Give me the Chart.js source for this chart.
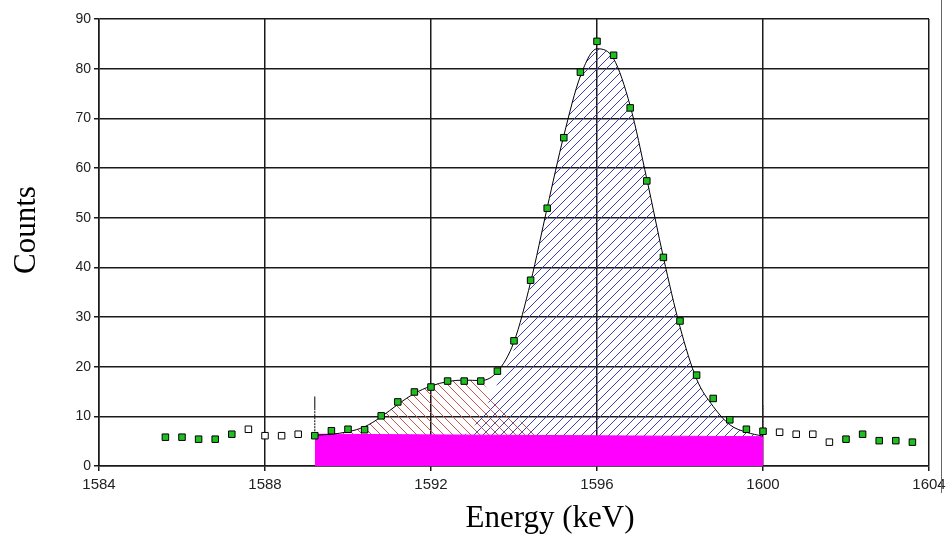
<!DOCTYPE html>
<html>
<head>
  <meta charset="UTF-8">
  <title>Counts vs Energy</title>
  <script src="https://cdn.jsdelivr.net/npm/chart.js@4"></script>
  <style>
    body { margin: 0; background: #fff; }
    #wrap { position: relative; width: 946px; height: 535px; }
    #frame { position: absolute; left: 941px; top: 0; width: 0; height: 493px; border-left: 1px solid #666; }
  </style>
</head>
<body>
  <div id="wrap">
    <canvas id="chart"></canvas>
    <div id="frame"></div>
  </div>

  <script>
    // measured spectrum
    const energy = [1585.6, 1586.0, 1586.4, 1586.8, 1587.2, 1587.6, 1588.0, 1588.4, 1588.8, 1589.2,
                    1589.6, 1590.0, 1590.4, 1590.8, 1591.2, 1591.6, 1592.0, 1592.4, 1592.8, 1593.2,
                    1593.6, 1594.0, 1594.4, 1594.8, 1595.2, 1595.6, 1596.0, 1596.4, 1596.8, 1597.2,
                    1597.6, 1598.0, 1598.4, 1598.8, 1599.2, 1599.6, 1600.0, 1600.4, 1600.8, 1601.2,
                    1601.6, 1602.0, 1602.4, 1602.8, 1603.2, 1603.6];
    const counts = [5.8, 5.8, 5.4, 5.4, 6.4, 7.4, 6.1, 6.1, 6.4, 6.1,
                    7.1, 7.4, 7.3, 10.1, 12.9, 14.9, 15.9, 17.1, 17.1, 17.1,
                    19.1, 25.2, 37.4, 51.9, 66.1, 79.3, 85.5, 82.7, 72.1, 57.4,
                    42.0, 29.2, 18.3, 13.6, 9.3, 7.4, 7.0, 6.8, 6.4, 6.4,
                    4.8, 5.4, 6.4, 5.1, 5.1, 4.8];
    // channels drawn as open squares
    const openEnergy = [1587.6, 1588.0, 1588.4, 1588.8, 1600.4, 1600.8, 1601.2, 1601.6];

    // total fit curve
    const fitEnergy = [1589.2, 1589.6, 1590.0, 1590.4, 1590.8, 1591.2, 1591.6, 1592.0, 1592.4, 1592.8,
                       1593.2, 1593.6, 1594.0, 1594.4, 1594.8, 1595.2, 1595.6, 1596.0, 1596.4, 1596.8,
                       1597.2, 1597.6, 1598.0, 1598.4, 1598.8, 1599.2, 1599.6, 1600.0];
    const fitCounts = [6.2, 6.4, 6.9, 7.9, 9.9, 12.4, 14.6, 16.1, 17.0, 17.3,
                       17.2, 19.0, 25.0, 37.0, 52.0, 66.5, 78.5, 84.0, 82.0, 72.5,
                       57.8, 42.0, 28.0, 17.5, 12.0, 8.3, 6.8, 6.0];

    // small peak (red hatch)
    const smallEnergy = [1589.2, 1589.6, 1590.0, 1590.4, 1590.8, 1591.2, 1591.6, 1592.0, 1592.4, 1592.8,
                         1593.2, 1593.6, 1594.0, 1594.4, 1594.6];
    const smallCounts = [6.2, 6.4, 6.9, 7.9, 9.9, 12.4, 14.6, 16.1, 17.0, 17.2,
                         16.8, 12.6, 10.0, 7.3, 6.0];

    // main peak (blue hatch)
    const mainEnergy = [1592.4, 1592.8, 1593.2, 1593.6, 1594.0, 1594.4, 1594.8, 1595.2, 1595.6, 1596.0,
                        1596.4, 1596.8, 1597.2, 1597.6, 1598.0, 1598.4, 1598.8, 1599.2, 1599.6, 1600.0];
    const mainCounts = [6.2, 6.3, 10.0, 16.5, 23.5, 36.5, 52.0, 66.5, 78.5, 84.0,
                        82.0, 72.5, 57.8, 42.0, 28.0, 17.5, 12.0, 8.3, 6.8, 6.0];

    // continuum under the region
    const baseEnergy = [1589.2, 1600.0];
    const baseCounts = [6.4, 5.9];

    // region limit markers
    const leftMarkE = [1589.2, 1589.2];
    const leftMarkC = [7.0, 11.5];
    const leftTickC = [11.5, 14.0];
    const rightMarkE = [1600.0, 1600.0];
    const rightMarkC = [7.6, 12.2];

    const xTicks = [1584, 1588, 1592, 1596, 1600, 1604];
    const xTitle = 'Energy (keV)';
    const yTitle = 'Counts';

    const pts = (xs, ys) => xs.map((x, i) => ({ x: x, y: ys[i] }));

    function hatch(color, forward) {
      const n = 9;
      const c = document.createElement('canvas');
      c.width = n; c.height = n;
      const g = c.getContext('2d');
      g.strokeStyle = color;
      g.lineWidth = 1;
      g.beginPath();
      if (forward) {
        g.moveTo(-1, n + 1); g.lineTo(n + 1, -1);
        g.moveTo(-n / 2 - 1, n / 2 + 1); g.lineTo(n / 2 + 1, -n / 2 - 1);
        g.moveTo(n / 2 - 1, 1.5 * n + 1); g.lineTo(1.5 * n + 1, n / 2 - 1);
      } else {
        g.moveTo(-1, -1); g.lineTo(n + 1, n + 1);
        g.moveTo(-n / 2 - 1, n / 2 - 1); g.lineTo(n / 2 + 1, 1.5 * n + 1);
        g.moveTo(n / 2 - 1, -n / 2 - 1); g.lineTo(1.5 * n + 1, n / 2 + 1);
      }
      g.stroke();
      return g.createPattern(c, 'repeat');
    }

    const titles = {
      id: 'titles',
      afterDraw(chart) {
        const ctx = chart.ctx;
        ctx.save();
        ctx.fillStyle = '#000';
        ctx.font = '31px "Liberation Serif", "Times New Roman", serif';
        ctx.textAlign = 'center';
        ctx.textBaseline = 'alphabetic';
        ctx.fillText(xTitle, 550, 527);
        ctx.translate(35, 230);
        ctx.rotate(-Math.PI / 2);
        ctx.fillText(yTitle, 0, 0);
        ctx.restore();
      }
    };

    const green = '#1fbf1f';
    const pointFill = energy.map(e => openEnergy.includes(e) ? '#ffffff' : green);
    const tickFont = "'Liberation Sans', Arial, sans-serif";

    const ctx = document.getElementById('chart').getContext('2d');
    new Chart(ctx, {
      type: 'scatter',
      data: {
        datasets: [
          { label: 'data', data: pts(energy, counts), pointStyle: 'rect', pointRadius: 4.6,
            pointBackgroundColor: pointFill, pointBorderColor: '#000', pointBorderWidth: 1, showLine: false },
          { label: 'fit', data: pts(fitEnergy, fitCounts), showLine: true, borderColor: '#000',
            borderWidth: 1, pointRadius: 0, cubicInterpolationMode: 'monotone', fill: false },
          { label: 'left limit', data: pts(leftMarkE, leftMarkC), showLine: true, borderColor: '#000',
            borderWidth: 1, borderDash: [2, 1], pointRadius: 0 },
          { label: 'left tick', data: pts(leftMarkE, leftTickC), showLine: true, borderColor: '#000',
            borderWidth: 1, pointRadius: 0 },
          { label: 'right limit', data: pts(rightMarkE, rightMarkC), showLine: true, borderColor: '#333',
            borderWidth: 1, borderDash: [2, 1], pointRadius: 0 },
          { label: 'continuum', data: pts(baseEnergy, baseCounts), showLine: true, borderColor: '#ff00ff',
            borderWidth: 1, backgroundColor: '#ff00ff', fill: 'origin', pointRadius: 0 },
          { label: 'main peak', data: pts(mainEnergy, mainCounts), showLine: true, borderWidth: 0,
            borderColor: 'rgba(0,0,0,0)', backgroundColor: hatch('#3e3eb8', true), fill: { value: 5 },
            pointRadius: 0, cubicInterpolationMode: 'monotone' },
          { label: 'small peak', data: pts(smallEnergy, smallCounts), showLine: true, borderWidth: 0,
            borderColor: 'rgba(0,0,0,0)', backgroundColor: hatch('#c8584c', false), fill: { value: 5 },
            pointRadius: 0, cubicInterpolationMode: 'monotone' }
        ]
      },
      options: {
        responsive: true,
        maintainAspectRatio: false,
        animation: false,
        events: [],
        layout: { padding: { top: 19, right: 0, left: 0, bottom: 0 } },
        plugins: { legend: { display: false }, tooltip: { enabled: false } },
        scales: {
          x: {
            type: 'linear', min: 1584, max: 1604,
            afterBuildTicks: s => { s.ticks = xTicks.map(v => ({ value: v })); },
            afterFit: s => { s.height = 69; s.paddingRight = 17; },
            grid: { color: '#1a1a1a', lineWidth: 1.5, tickLength: 5 },
            border: { color: '#1a1a1a', width: 1.5 },
            ticks: { color: '#222', font: { family: tickFont, size: 15 }, padding: 5, maxRotation: 0,
                     callback: v => String(v) }
          },
          y: {
            min: 0, max: 90,
            afterFit: s => { s.width = 99; },
            grid: { color: '#1a1a1a', lineWidth: 1.5, tickLength: 5 },
            border: { color: '#1a1a1a', width: 1.5 },
            ticks: { stepSize: 10, color: '#222', font: { family: tickFont, size: 14 }, padding: 3 }
          }
        }
      },
      plugins: [titles]
    });
  </script>
</body>
</html>
